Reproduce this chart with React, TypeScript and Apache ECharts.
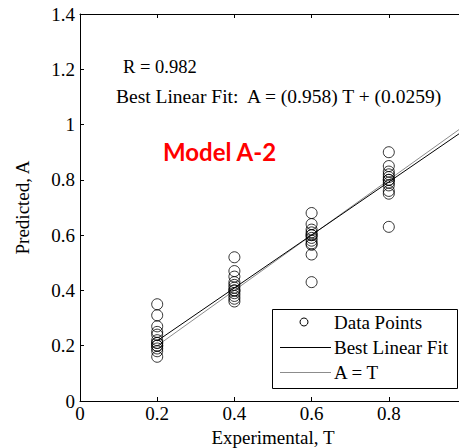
import React, { useEffect, useRef } from "react";
import * as echarts from "echarts";

const experimentalLevels = [0.2, 0.4, 0.6, 0.8];
const predictedAt02 = [0.35, 0.31, 0.27, 0.25, 0.24, 0.22, 0.21, 0.21, 0.2, 0.2, 0.19, 0.18, 0.16];
const predictedAt04 = [0.52, 0.47, 0.45, 0.43, 0.42, 0.41, 0.4, 0.4, 0.39, 0.38, 0.37, 0.36];
const predictedAt06 = [0.68, 0.64, 0.62, 0.61, 0.6, 0.6, 0.59, 0.58, 0.57, 0.565, 0.53, 0.43];
const predictedAt08 = [0.9, 0.85, 0.83, 0.82, 0.81, 0.8, 0.8, 0.79, 0.78, 0.76, 0.75, 0.63];
const fitSlope = 0.958;
const fitIntercept = 0.0259;
const fitRange = [0.2, 1];

const serif = "Liberation Serif, serif";
const fs = 19;

export default function App() {
  const ref = useRef<HTMLDivElement>(null);
  useEffect(() => {
    if (!ref.current) return;
    const chart = echarts.init(ref.current, null, { renderer: "svg" });
    const groups = [predictedAt02, predictedAt04, predictedAt06, predictedAt08];
    const points: number[][] = [];
    groups.forEach((g, i) => g.forEach((v) => points.push([experimentalLevels[i], v])));
    const fitLine = fitRange.map((t) => [t, fitSlope * t + fitIntercept]);
    const idLine = fitRange.map((t) => [t, t]);
    const axisCommon = {
      axisLine: { show: true, lineStyle: { color: "#000", width: 1 } },
      axisTick: { show: true, inside: true, length: 4, lineStyle: { color: "#000" } },
      splitLine: { show: false },
    };
    chart.setOption({
      animation: false,
      backgroundColor: "#fff",
      grid: { left: 80, top: 14, width: 386, height: 387, outerBoundsMode: "none", containLabel: false },
      xAxis: [
        {
          type: "value",
          min: 0,
          max: 1,
          interval: 0.2,
          name: "Experimental, T",
          nameLocation: "middle",
          nameGap: 21,
          nameTextStyle: { fontFamily: serif, fontSize: fs, color: "#000" },
          axisLabel: { fontFamily: serif, fontSize: fs, color: "#000", margin: 3, showMaxLabel: false },
          ...axisCommon,
        },
        {
          type: "value",
          position: "top",
          min: 0,
          max: 1,
          interval: 0.2,
          axisLabel: { show: false },
          ...axisCommon,
        },
      ],
      yAxis: {
        type: "value",
        min: 0,
        max: 1.4,
        interval: 0.2,
        name: "Predicted, A",
        nameLocation: "middle",
        nameGap: 48,
        nameTextStyle: { fontFamily: serif, fontSize: fs, color: "#000" },
        axisLabel: { fontFamily: serif, fontSize: fs, color: "#000", margin: 5 },
        ...axisCommon,
      },
      series: [
        {
          name: "A = T",
          type: "line",
          data: idLine,
          symbol: "none",
          lineStyle: { color: "#8c8c8c", width: 1 },
          z: 2,
        },
        {
          name: "Best Linear Fit",
          type: "line",
          data: fitLine,
          symbol: "none",
          lineStyle: { color: "#000", width: 1 },
          z: 3,
        },
        {
          name: "Data Points",
          type: "scatter",
          data: points,
          symbol: "circle",
          symbolSize: 11,
          itemStyle: { color: "transparent", borderColor: "#000", borderWidth: 1 },
          z: 4,
        },
      ],
      graphic: [
        {
          type: "text",
          x: 123,
          y: 67,
          style: { text: "R = 0.982", fontFamily: serif, fontSize: 18.5, fill: "#000", verticalAlign: "middle" },
        },
        {
          type: "text",
          x: 116,
          y: 96,
          style: {
            text: "Best Linear Fit:  A = (0.958) T + (0.0259)",
            fontFamily: serif,
            fontSize: 19.5,
            fill: "#000",
            verticalAlign: "middle",
          },
        },
        {
          type: "text",
          x: 163,
          y: 151,
          style: {
            text: "Model A-2",
            fontFamily: "Lato",
            fontWeight: "bold",
            fontSize: 24,
            fill: "#ff0000",
            verticalAlign: "middle",
          },
        },
        {
          type: "rect",
          shape: { x: 272.5, y: 309.5, width: 185, height: 79 },
          style: { fill: "#fff", stroke: "#000", lineWidth: 1 },
          z: 10,
        },
        {
          type: "circle",
          shape: { cx: 304, cy: 322, r: 4 },
          style: { fill: "none", stroke: "#000", lineWidth: 1 },
          z: 11,
        },
        {
          type: "line",
          shape: { x1: 280, y1: 347.5, x2: 331, y2: 347.5 },
          style: { stroke: "#000", lineWidth: 1 },
          z: 11,
        },
        {
          type: "line",
          shape: { x1: 280, y1: 372.5, x2: 331, y2: 372.5 },
          style: { stroke: "#8c8c8c", lineWidth: 1 },
          z: 11,
        },
        {
          type: "text",
          x: 334,
          y: 322,
          z: 11,
          style: { text: "Data Points", fontFamily: serif, fontSize: fs, fill: "#000", verticalAlign: "middle" },
        },
        {
          type: "text",
          x: 334,
          y: 347,
          z: 11,
          style: { text: "Best Linear Fit", fontFamily: serif, fontSize: fs, fill: "#000", verticalAlign: "middle" },
        },
        {
          type: "text",
          x: 334,
          y: 372,
          z: 11,
          style: { text: "A = T", fontFamily: serif, fontSize: fs, fill: "#000", verticalAlign: "middle" },
        },
      ],
    });
    return () => chart.dispose();
  }, []);
  return (
    <div
      ref={ref}
      style={{ position: "fixed", left: 0, top: 0, width: 459, height: 448 }}
    />
  );
}
